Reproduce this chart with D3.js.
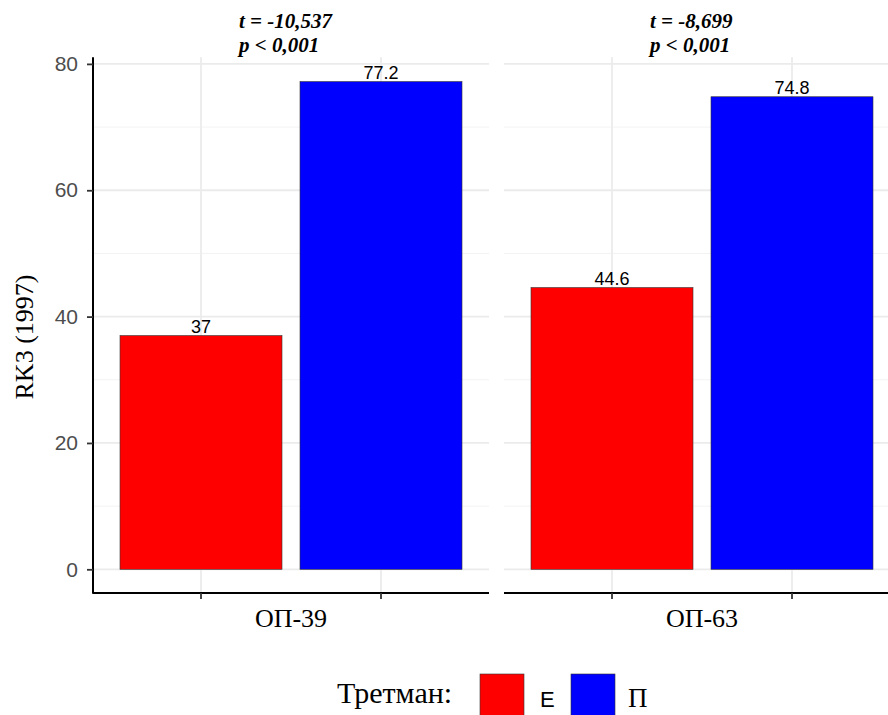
<!DOCTYPE html>
<html><head><meta charset="utf-8">
<script src="https://cdn.jsdelivr.net/npm/d3@7"></script>
<style>html,body{margin:0;padding:0;background:#fff;overflow:hidden}</style>
</head><body>
<svg id="chart" width="888" height="715"></svg>
<script>
const groups = ["ОП-39", "ОП-63"];
const treatments = ["Е", "П"];
const valuesE = [37, 44.6];
const valuesP = [77.2, 74.8];
const tLabels = ["t = -10,537", "t = -8,699"];
const pLabels = ["p < 0,001", "p < 0,001"];
const yTicks = [0, 20, 40, 60, 80];
const yMinor = [10, 30, 50, 70];
const colors = ["#FF0000", "#0000FF"];
const yTitle = "RK3 (1997)";
const legendTitle = "Третман:";

(function () {
const svg = d3.select("#chart");
const panelW = 396, panelX = [93, 504];
const pTop = 57.2, pBottom = 593.7;
const y = d3.scaleLinear().domain([-3.86, 81.06]).range([pBottom, pTop]);
const color = d3.scaleOrdinal().domain(treatments).range(colors);

groups.forEach((g, gi) => {
  const x0 = panelX[gi];
  const x = d3.scaleBand().domain(treatments).range([x0, x0 + panelW])
    .paddingInner(0.1).paddingOuter(0.15);
  const pg = svg.append("g");
  pg.selectAll(".minor").data(yMinor).enter().append("line")
    .attr("x1", x0).attr("x2", x0 + panelW)
    .attr("y1", d => y(d)).attr("y2", d => y(d))
    .attr("stroke", "#F3F3F3").attr("stroke-width", 1);
  pg.selectAll(".major").data(yTicks).enter().append("line")
    .attr("x1", x0).attr("x2", x0 + panelW)
    .attr("y1", d => y(d)).attr("y2", d => y(d))
    .attr("stroke", "#EBEBEB").attr("stroke-width", 1.8);
  pg.selectAll(".vgrid").data(treatments).enter().append("line")
    .attr("x1", d => x(d) + x.bandwidth() / 2).attr("x2", d => x(d) + x.bandwidth() / 2)
    .attr("y1", pTop).attr("y2", pBottom)
    .attr("stroke", "#EBEBEB").attr("stroke-width", 1.8);
  const vals = [valuesE[gi], valuesP[gi]];
  const data = treatments.map((t, i) => ({t, v: vals[i]}));
  pg.selectAll("rect.bar").data(data).enter().append("rect")
    .attr("x", d => x(d.t)).attr("width", x.bandwidth())
    .attr("y", d => y(d.v)).attr("height", d => y(0) - y(d.v))
    .attr("fill", d => color(d.t)).attr("stroke", "#333").attr("stroke-width", 0.6);
  pg.selectAll("text.val").data(data).enter().append("text")
    .attr("x", d => x(d.t) + x.bandwidth() / 2).attr("y", d => y(d.v) - 3)
    .attr("text-anchor", "middle").attr("font-family", "Liberation Sans, Arial, sans-serif")
    .attr("font-size", 18).attr("fill", "#000").text(d => d.v);
  const xa = pg.append("g").attr("transform", `translate(0,${pBottom - 0.8})`)
    .call(d3.axisBottom(x).tickSize(6).tickFormat(""));
  xa.select(".domain").attr("stroke", "#000").attr("stroke-width", 2)
    .attr("d", `M${x0},0H${x0 + panelW}`);
  xa.selectAll(".tick line").attr("stroke", "#333").attr("stroke-width", 1.8);
  pg.append("text").attr("x", x0 + panelW / 2).attr("y", 627)
    .attr("text-anchor", "middle").attr("font-family", "Liberation Serif, Times New Roman, serif")
    .attr("font-size", 26).attr("fill", "#000").text(g);
  const st = pg.append("text").attr("font-family", "Liberation Serif, Times New Roman, serif")
    .attr("font-size", 21).attr("font-weight", "bold").attr("font-style", "italic").attr("fill", "#000");
  st.append("tspan").attr("x", x0 + panelW / 2 - 52).attr("y", 28).text(tLabels[gi]);
  st.append("tspan").attr("x", x0 + panelW / 2 - 52).attr("y", 52).text(pLabels[gi]);
});

const ya = svg.append("g").attr("transform", `translate(${panelX[0]},0)`)
  .call(d3.axisLeft(y).tickValues(yTicks).tickSize(6).tickPadding(9));
ya.select(".domain").attr("stroke", "#000").attr("stroke-width", 2)
  .attr("d", `M0,${pTop}V${pBottom}`);
ya.selectAll(".tick line").attr("stroke", "#333").attr("stroke-width", 1.8);
ya.selectAll(".tick text").attr("font-family", "Liberation Sans, Arial, sans-serif")
  .attr("font-size", 21).attr("fill", "#4D4D4D");

svg.append("text").attr("transform", "translate(33,337) rotate(-90)")
  .attr("text-anchor", "middle").attr("font-family", "Liberation Serif, Times New Roman, serif")
  .attr("font-size", 26).attr("fill", "#000").text(yTitle);

const lg = svg.append("g");
lg.append("text").attr("x", 337).attr("y", 703).attr("font-family", "Liberation Serif, Times New Roman, serif")
  .attr("font-size", 30).attr("fill", "#000").text(legendTitle);
const keyX = [480, 571], labX = [540, 628];
const labFonts = ["Liberation Sans, Arial, sans-serif", "Liberation Serif, Times New Roman, serif"];
const labSizes = [22, 27];
treatments.forEach((t, i) => {
  lg.append("rect").attr("x", keyX[i]).attr("y", 674).attr("width", 44).attr("height", 44)
    .attr("fill", color(t)).attr("stroke", "#333").attr("stroke-width", 0.6);
  lg.append("text").attr("x", labX[i]).attr("y", 707).attr("font-family", labFonts[i])
    .attr("font-size", labSizes[i]).attr("fill", "#000").text(t);
});
})();
</script>
</body></html>
